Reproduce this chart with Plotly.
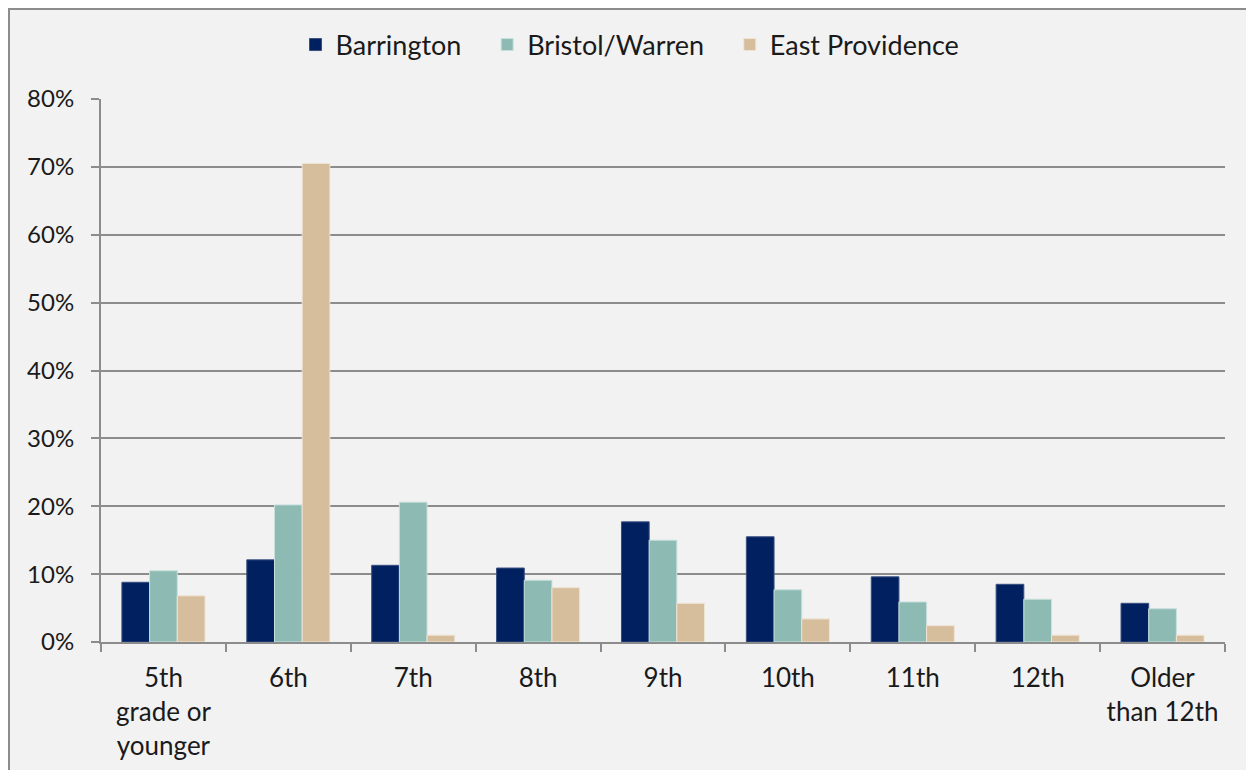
import plotly.graph_objects as go

categories = ["5th<br>grade or<br>younger", "6th", "7th", "8th", "9th", "10th", "11th", "12th", "Older<br>than 12th"]
barrington = [8.8, 12.1, 11.3, 10.9, 17.7, 15.5, 9.6, 8.5, 5.7]
bristol_warren = [10.5, 20.2, 20.6, 9.1, 15.0, 7.7, 5.9, 6.3, 4.9]
east_providence = [6.8, 70.5, 1.0, 8.0, 5.7, 3.4, 2.4, 1.0, 1.0]
y_ticks = [0, 10, 20, 30, 40, 50, 60, 70, 80]
y_labels = [f"{v}%" for v in y_ticks]

series = [
    ("Barrington", barrington, "#00205f", "#3a4f80"),
    ("Bristol/Warren", bristol_warren, "#8dbbb4", "#c9e0dc"),
    ("East Providence", east_providence, "#d6bd9c", "#efe3d3"),
]

font_family = "Lato, 'DejaVu Sans', sans-serif"
PAD = "\u00a0\u00a0\u00a0"

fig = go.Figure()
for name, vals, color, edge in series:
    fig.add_trace(go.Bar(
        name=name + PAD, x=categories, y=vals,
        marker=dict(color=color, line=dict(color=edge, width=1)),
    ))

L, T, W, H = 93, 91, 1124, 543
fig.update_layout(
    width=1254, height=770,
    margin=dict(l=L, r=1254 - L - W, t=T, b=770 - T - H, autoexpand=False),
    paper_bgcolor="#f2f2f2",
    plot_bgcolor="rgba(0,0,0,0)",
    barmode="group",
    bargap=0.335,
    bargroupgap=0,
    font=dict(family=font_family, size=25, color="#1a1a1a"),
    legend=dict(orientation="h", x=0.48, xanchor="center", y=(H - (45 - 8 - T)) / H - 0 if False else (T + H - 37) / H, yanchor="middle",
                font=dict(size=27), itemwidth=30, bgcolor="rgba(0,0,0,0)"),
    shapes=[dict(type="rect", xref="paper", yref="paper",
                 x0=(1 - L) / W, x1=(1300 - L) / W,
                 y0=-(770 - T - H + 20) / H, y1=(T + H - 1) / H,
                 fillcolor="rgba(0,0,0,0)", line=dict(color="#8c8c8c", width=2), layer="below")],
)

fig.update_yaxes(
    range=[0, 80], tickvals=y_ticks, ticktext=y_labels,
    showgrid=True, gridcolor="#8c8c8c", gridwidth=2,
    showline=True, linecolor="#8c8c8c", linewidth=2,
    ticks="outside", ticklen=8, tickcolor="#8c8c8c", tickwidth=2,
    zeroline=False, ticklabelstandoff=12, automargin=False,
    tickfont=dict(size=24),
)
fig.update_xaxes(
    showline=True, linecolor="#8c8c8c", linewidth=2,
    ticks="outside", ticklen=8, tickcolor="#8c8c8c", tickwidth=2,
    tickson="boundaries", showgrid=False, automargin=False,
    ticklabelstandoff=12, tickfont=dict(size=26),
)

fig.write_html("out.html")
